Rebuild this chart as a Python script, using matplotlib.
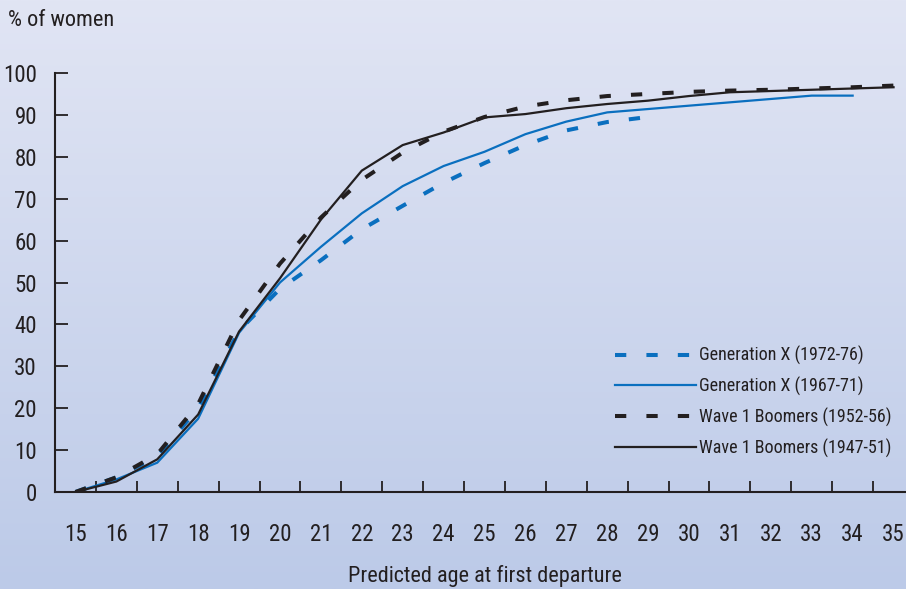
import numpy as np
import matplotlib
matplotlib.use("Agg")
import matplotlib.pyplot as plt
from matplotlib import font_manager as fm

names = set(f.name for f in fm.fontManager.ttflist)
font = 'DejaVu Sans'
for cand in ['Roboto Condensed', 'Liberation Sans Narrow', 'Open Sans Condensed', 'Noto Sans Condensed']:
    if cand in names:
        font = cand
        break
plt.rcParams['font.family'] = [font, 'DejaVu Sans']

ages = list(range(15, 36))

genx_7276 = [0, 3.5, 8.5, 20, 38.5, 48.5, 55.3, 62.7, 68.3, 73.8, 78.5, 82.8, 86.3, 88.3, 89.5]
genx_6771 = [0, 3, 7, 17.5, 38, 50, 58.5, 66.5, 73, 77.8, 81.2, 85.4, 88.4, 90.6, 91.4,
             92.2, 93, 93.8, 94.6, 94.6]
boom_5256 = [0, 3.5, 9, 21, 41, 54.5, 65.5, 74.5, 81, 86, 89.5, 92, 93.5, 94.5, 95,
             95.5, 95.8, 96, 96.3, 96.6, 97]
boom_4751 = [0, 2.5, 7.8, 18.5, 38.3, 51, 65, 76.7, 82.8, 85.8, 89.4, 90.2, 91.6, 92.6, 93.4,
             94.5, 95.4, 95.7, 96, 96.3, 96.6]

labels = ['Generation X (1972-76)', 'Generation X (1967-71)',
          'Wave 1 Boomers (1952-56)', 'Wave 1 Boomers (1947-51)']

blue = '#0a6fbf'
dark = '#231f20'

fig = plt.figure(figsize=(9.06, 5.89), dpi=100)

# gradient background
bg = fig.add_axes([0, 0, 1, 1], zorder=-10)
top = np.array([225, 229, 244]) / 255
bot = np.array([188, 202, 232]) / 255
t = np.linspace(0, 1, 256)[:, None]
grad = (top[None, :] * (1 - t) + bot[None, :] * t)[:, None, :]
bg.imshow(grad, aspect='auto', extent=[0, 1, 0, 1])
bg.axis('off')

ax = fig.add_axes([55 / 906, 97 / 589, 859 / 906, 419 / 589])
ax.patch.set_alpha(0)

dash = (0, (2.8, 5))
ax.plot(ages[:len(genx_7276)], genx_7276, color=blue, lw=2.9,
        linestyle=dash, label=labels[0])
ax.plot(ages[:len(genx_6771)], genx_6771, color=blue, lw=1.6, label=labels[1])
ax.plot(ages[:len(boom_5256)], boom_5256, color=dark, lw=2.9,
        linestyle=dash, label=labels[2])
ax.plot(ages[:len(boom_4751)], boom_4751, color=dark, lw=1.6, label=labels[3])

ax.set_xlim(14.5, 35.5)
ax.set_ylim(0, 100)
for s in ['top', 'right']:
    ax.spines[s].set_visible(False)
for s in ['left', 'bottom']:
    ax.spines[s].set_color(dark)
    ax.spines[s].set_linewidth(1.5)

ax.set_yticks(range(0, 101, 10))
ax.tick_params(axis='y', direction='in', length=9, width=1.3, color=dark,
               labelsize=16.5, pad=13, labelcolor=dark)
ax.set_xticks([a + 0.5 for a in ages[:-1]])
ax.set_xticklabels([])
ax.tick_params(axis='x', which='major', direction='in', length=8, width=1.3, color=dark)
ax.set_xticks(ages, minor=True)
ax.set_xticklabels([str(a) for a in ages], minor=True)
ax.tick_params(axis='x', which='minor', length=0, labelsize=16.5, pad=22, labelcolor=dark)

fig.text(8 / 906, 1 - 21 / 589, '% of women', fontsize=16, color=dark, va='center', ha='left')
fig.text(485 / 906, 1 - 576 / 589, 'Predicted age at first departure', fontsize=16,
         color=dark, va='center', ha='center')

ax.legend(loc='upper left', bbox_to_anchor=(615 / 906, 1 - 346 / 589),
          bbox_transform=fig.transFigure, frameon=False, fontsize=13,
          handlelength=4.5, handletextpad=0.15, labelspacing=0.65,
          borderpad=0, borderaxespad=0, labelcolor=dark)

fig.savefig('out.png', dpi=100)
